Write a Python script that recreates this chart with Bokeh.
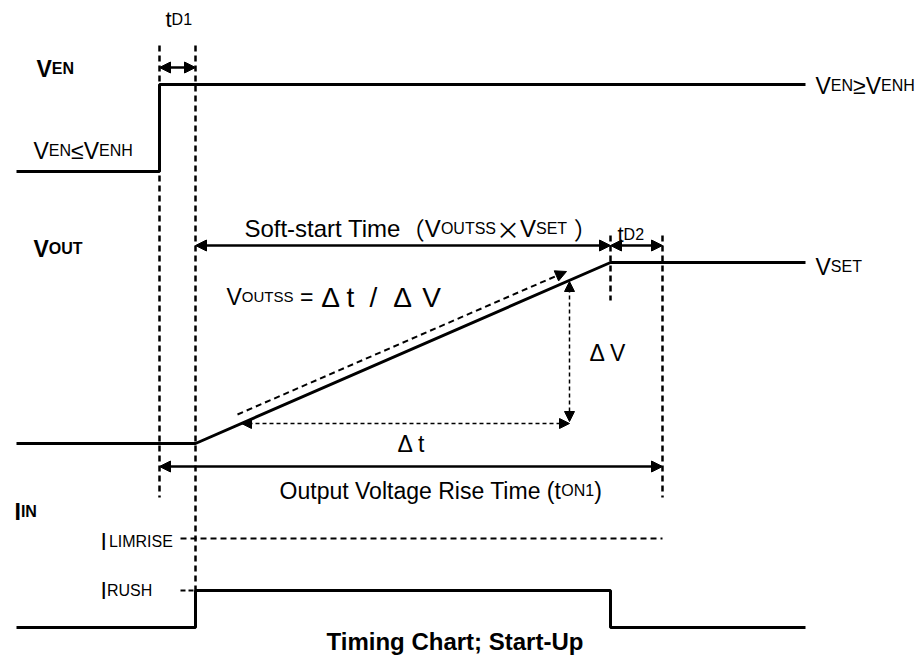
from bokeh.plotting import figure
from bokeh.models import Range1d, Arrow, NormalHead, ColumnDataSource
from bokeh.embed import file_html
from bokeh.resources import INLINE

# ---- timing markers (horizontal positions along the time axis) ----
t_begin = 16
t_en_rise = 159
t_ss_start = 195
t_ss_end = 610
t_on1_end = 662
t_end = 805

# ---- signal levels (vertical positions, top = 0) ----
ven_low, ven_high = 171, 84
vout_low, vout_set = 443, 262
iin_low, iin_rush, iin_lim = 627, 590, 538

# ---- waveforms ----
ven_x = [t_begin, t_en_rise, t_en_rise, t_end]
ven_y = [ven_low, ven_low, ven_high, ven_high]
vout_x = [t_begin, t_ss_start, t_ss_end, t_end]
vout_y = [vout_low, vout_low, vout_set, vout_set]
iin_x = [t_begin, t_ss_start, t_ss_start, t_ss_end, t_ss_end, t_end]
iin_y = [iin_low, iin_low, iin_rush, iin_rush, iin_low, iin_low]

# ---- dashed marker lines ----
mark_x = [t_en_rise, t_ss_start, t_ss_end, t_on1_end]
mark_top = [45, 45, 235, 235]
mark_bot = [497, iin_rush, 300, 497]

FONT = "Liberation Sans"
CJK = "Noto Sans CJK JP"

W_REG = {' ': 278, '(': 333, ')': 333, '-': 333, '/': 278, ';': 278, '=': 584, '1': 556, '2': 556,
         'A': 667, 'B': 667, 'C': 722, 'D': 722, 'E': 667, 'F': 611, 'G': 778, 'H': 722, 'I': 278,
         'L': 556, 'M': 833, 'N': 722, 'O': 778, 'P': 667, 'R': 722, 'S': 667, 'T': 611, 'U': 722,
         'V': 667, 'a': 556, 'e': 556, 'f': 278, 'g': 556, 'i': 222, 'l': 222, 'm': 833, 'n': 556,
         'o': 556, 'p': 556, 'r': 333, 's': 500, 't': 278, 'u': 556, '≤': 549, '≥': 549, 'Δ': 612,
         '×': 584}
W_BOLD = {' ': 278, ';': 333, '-': 333, 'C': 722, 'E': 667, 'I': 278, 'N': 722, 'O': 778, 'S': 667,
          'T': 611, 'U': 722, 'V': 667, 'a': 556, 'g': 611, 'h': 611, 'i': 278, 'm': 889, 'n': 611,
          'p': 611, 'r': 389, 't': 333}


def text_width(s, size, bold, font):
    total = 0
    for ch in s:
        if font == CJK:
            total += 1000
        else:
            total += (W_BOLD if bold else W_REG).get(ch, 600)
    return total * size / 1000.0


tx, ty, tt, tsize, tfont, tstyle, talign = [], [], [], [], [], [], []


def rich(x0, base, parts, bold=False):
    """First part is right-aligned at its computed end (absorbs kerning), rest chained.
    A part with empty text is a pixel gap; leading blanks become an advance."""
    x = x0
    for i, part in enumerate(parts):
        s, size = part[0], part[1]
        if s == "":
            x += size
            continue
        font = part[2] if len(part) > 2 else FONT
        stripped = s.lstrip(" ")
        x += text_width(s[:len(s) - len(stripped)], size, bold, FONT)
        s = stripped
        if not s:
            continue
        w = text_width(s, size, bold, font)
        if i == 0 and len(parts) > 1:
            x += w
            tx.append(x); talign.append("right")
        else:
            tx.append(x); talign.append("left")
            x += w
        ty.append(base); tt.append(s)
        tsize.append(f"{size}px"); tfont.append(font)
        tstyle.append("bold" if bold else "normal")


M, S = 23, 16
rich(165, 19, [("t", 22), ("D1", 16)])
rich(36, 68, [("V", M), ("EN", S)], bold=True)
rich(33, 150, [("V", M), ("EN", S), ("≤", M), ("V", M), ("ENH", S)])
rich(815, 85, [("V", M), ("EN", S), ("≥", M), ("V", M), ("ENH", S)])
rich(33, 248, [("V", M), ("OUT", S)], bold=True)
rich(243, 228, [("Soft-start Time", 24), ("（", 24, CJK), ("V", 24), ("OUTSS", S),
                ("×", 24, CJK), ("V", 24), ("SET", S), (" ", 24), ("）", 24, CJK)])
rich(617, 234, [("t", 22), ("D2", 16)])
rich(815, 266, [("V", M), ("SET", S)])
rich(226, 296, [("V", M), ("OUTSS", 15), (" =", M)])
rich(589, 352, [("Δ V", M)])
rich(397, 443, [("Δ t", M)])
rich(277, 490, [("Output Voltage Rise Time (t", 23), ("ON1", S), (")", 23)])
rich(14, 511, [("I", M), ("IN", S)], bold=True)
rich(100, 541, [("I", M), ("", 2), ("LIMRISE", S)])
rich(100, 590, [("I", M), ("RUSH", S)])
rich(326, 641, [("Timing Chart; Start-Up", 24)], bold=True)

# formula characters, evenly pitched
eq_chars = ["Δ", "t", "/", "Δ", "V"]
eq_x = [330, 350, 373, 402, 431]

p = figure(width=918, height=657, x_range=Range1d(0, 918), y_range=Range1d(657, 0),
           output_backend="svg", toolbar_location=None, min_border=0,
           x_axis_location=None, y_axis_location=None)
p.grid.visible = False
p.outline_line_color = None
p.background_fill_color = "white"
p.border_fill_color = "white"

K = "#000000"
# waveforms
p.line(ven_x, ven_y, line_color=K, line_width=3)
p.line(vout_x, vout_y, line_color=K, line_width=3)
p.line(iin_x, iin_y, line_color=K, line_width=3)

# dashed markers
p.segment(x0=mark_x, y0=mark_top, x1=mark_x, y1=mark_bot, line_color=K, line_width=2.5,
          line_dash="6 4")
# I_LIMRISE level and I_RUSH tick
p.segment(x0=[180], y0=[iin_lim], x1=[t_on1_end], y1=[iin_lim], line_color=K, line_width=2,
          line_dash="6 4")
p.segment(x0=[180], y0=[iin_rush], x1=[t_ss_start], y1=[iin_rush], line_color=K, line_width=2,
          line_dash="5 3")


def arrow(x0, y0, x1, y1, both=True, width=2.5, dash="solid", size=11):
    a = Arrow(x_start=x0, y_start=y0, x_end=x1, y_end=y1, line_color=K, line_width=width,
              line_dash=dash,
              end=NormalHead(size=size, fill_color=K, line_color=K, line_width=1),
              start=NormalHead(size=size, fill_color=K, line_color=K, line_width=1) if both else None)
    p.add_layout(a)


arrow(t_en_rise, 67, t_ss_start, 67)
arrow(t_ss_start, 245, t_ss_end, 245)
arrow(t_ss_end, 245, t_on1_end, 245)
arrow(t_en_rise, 466, t_on1_end, 466)
arrow(241, 423, 569, 423, width=1.5, dash="4 3", size=10)
arrow(569, 281, 569, 421, width=1.5, dash="4 3", size=10)
arrow(237, 414, 566, 271, both=False, width=2, dash="6 4", size=11)

src = ColumnDataSource(dict(x=tx, y=ty, text=tt, size=tsize, font=tfont, style=tstyle,
                            align=talign))
p.text(x="x", y="y", text="text", source=src, text_font="font", text_font_size="size",
       text_font_style="style", text_align="align", text_baseline="alphabetic", text_color=K)
p.text(x=eq_x, y=[297] * len(eq_x), text=eq_chars, text_font_size="28px",
       text_align="center", text_baseline="alphabetic", text_color=K,
       text_font={"value": FONT})

open("out.html", "w").write(file_html(p, INLINE))
